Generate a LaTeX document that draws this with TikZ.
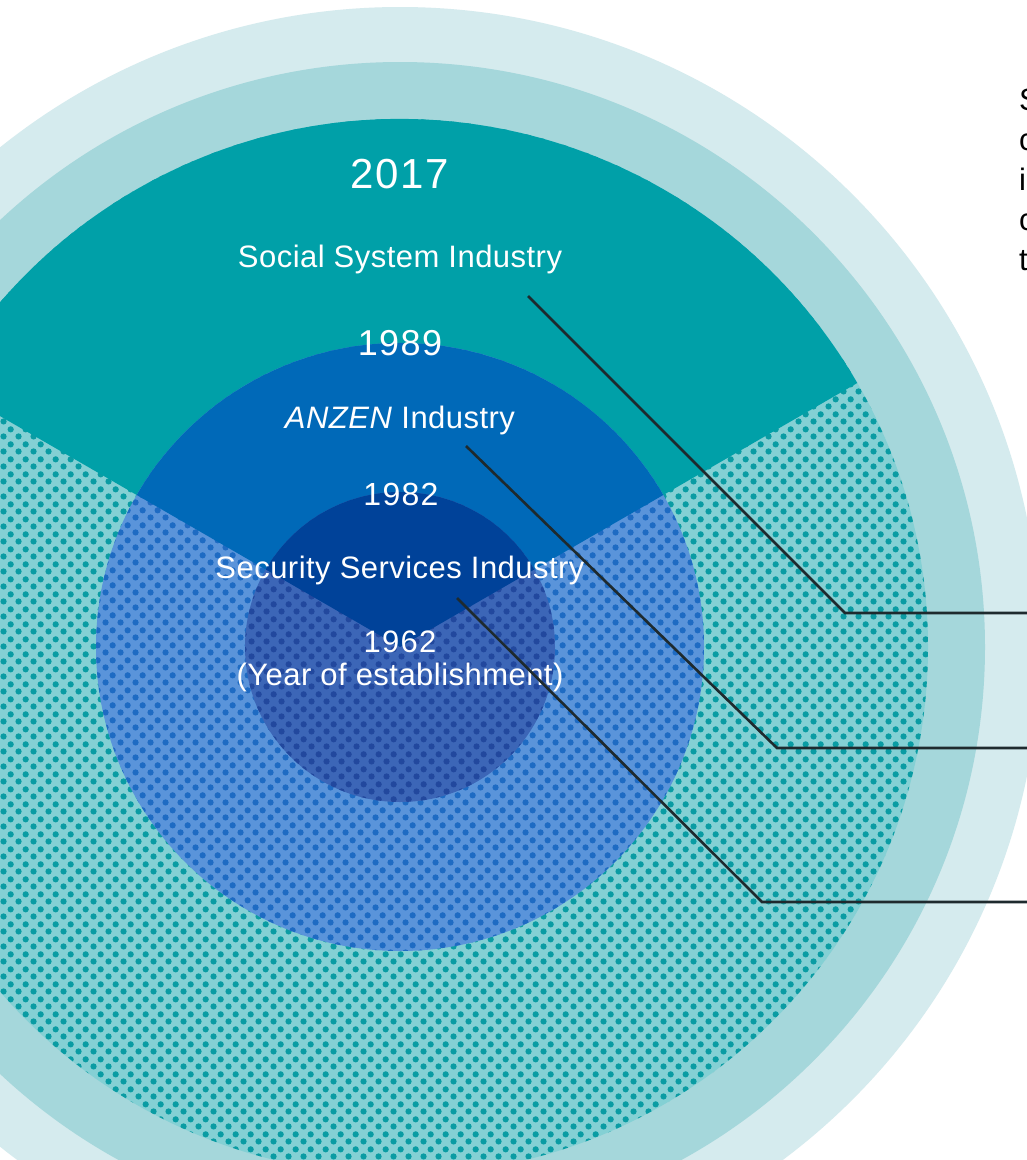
\documentclass[tikz,border=0pt]{standalone}
\usepackage{fontspec}
\setmainfont{Liberation Sans}[LetterSpace=1.5]
\newfontfamily\yearfont[LetterSpace=4]{Liberation Sans}
\usetikzlibrary{patterns.meta}
\definecolor{ringA}{HTML}{D5EBEE}
\definecolor{ringB}{HTML}{A5D7DB}
\definecolor{tealS}{HTML}{00A0A8}
\definecolor{tealBg}{HTML}{84D0D4}
\definecolor{tealDot}{HTML}{0A9CA3}
\definecolor{blueS}{HTML}{0069B8}
\definecolor{blueBg}{HTML}{5A94DA}
\definecolor{blueDot}{HTML}{1E6BC3}
\definecolor{navyS}{HTML}{004299}
\definecolor{navyBg}{HTML}{3C66B7}
\definecolor{navyDot}{HTML}{22489E}
\definecolor{lineC}{HTML}{1E2A2E}
\tikzdeclarepattern{
  name=halftone,
  type=uncolored,
  bottom left={(0pt,0pt)},
  top right={(14.6pt,14.6pt)},
  tile size={(14.6pt,14.6pt)},
  code={
    \fill (3.65pt,3.65pt) circle [radius=3.2pt];
    \fill (10.95pt,10.95pt) circle [radius=3.2pt];
  }
}
\tikzset{
  lbl/.style={text=white, font=\fontsize{31}{37}\selectfont, anchor=base, inner sep=0pt},
  yr/.style={text=white, anchor=base, inner sep=0pt},
  rt/.style={text=black, font=\fontsize{31}{37}\selectfont, anchor=base west, inner sep=0pt},
  conn/.style={draw=lineC, line width=2.6pt, line join=miter}
}
\begin{document}
\begin{tikzpicture}[x=1pt,y=-1pt]
\useasboundingbox (0,0) rectangle (1027,1160);
\fill[white] (0,0) rectangle (1027,1160);
\begin{scope}
\clip (0,0) rectangle (1027,1160);
\coordinate (C) at (400,647);
% outer rings
\fill[ringA] (C) circle[radius=640];
\fill[ringB] (C) circle[radius=585];
% 2017 circle
\fill[tealBg] (C) circle[radius=528];
\fill[pattern=halftone, pattern color=tealDot] (C) circle[radius=528];
\fill[tealS] (C) -- ++(-30:528) arc[start angle=-30, end angle=-150, radius=528] -- cycle;
% 1989 circle
\fill[blueBg] (C) circle[radius=304];
\fill[pattern=halftone, pattern color=blueDot] (C) circle[radius=304];
\fill[blueS] (C) -- ++(-30:304) arc[start angle=-30, end angle=-150, radius=304] -- cycle;
% 1982 circle
\fill[navyBg] (C) circle[radius=155];
\fill[pattern=halftone, pattern color=navyDot] (C) circle[radius=155];
\fill[navyS] (C) -- ++(-30:155) arc[start angle=-30, end angle=-150, radius=155] -- cycle;
\end{scope}
% labels
\node[yr, font=\yearfont\fontsize{42}{48}\selectfont] (y2017) at (400,188) {2017};
\node[lbl] (t2017) at (400,267) {Social System Industry};
\node[yr, font=\yearfont\fontsize{36}{42}\selectfont] (y1989) at (400,355) {1989};
\node[lbl] (t1989) at (400,428) {\textit{ANZEN} Industry};
\node[yr, font=\yearfont\fontsize{32}{38}\selectfont] (y1982) at (401,505) {1982};
\node[lbl] (t1982) at (400,578) {Security Services Industry};
\node[yr, font=\yearfont\fontsize{31}{37}\selectfont] (y1962) at (400,652) {1962};
\node[lbl] (t1962) at (400,685) {(Year of establishment)};
% connectors
\coordinate (s1) at (528,296);
\coordinate (b1) at (845,613);
\coordinate (e1) at (1030,613);
\coordinate (s2) at (466,446);
\coordinate (b2) at (777,748);
\coordinate (e2) at (1030,748);
\coordinate (s3) at (457,598);
\coordinate (b3) at (762,902);
\coordinate (e3) at (1030,902);
\draw[conn] (s1) -- (b1) -- (e1);
\draw[conn] (s2) -- (b2) -- (e2);
\draw[conn] (s3) -- (b3) -- (e3);
% right-hand text (cut by the page edge, as in the reference)
\node[rt] (r1) at (1019,110) {S};
\node[rt] (r2) at (1019,150) {c};
\node[rt] (r3) at (1019,190) {i};
\node[rt] (r4) at (1019,230) {c};
\node[rt] (r5) at (1019,270) {t};
\end{tikzpicture}
\end{document}
